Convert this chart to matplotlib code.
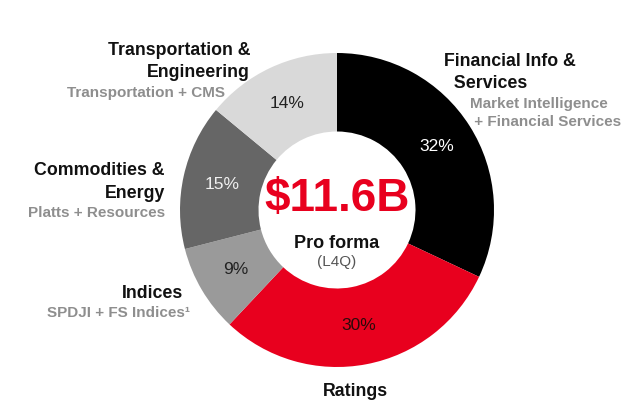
import matplotlib
matplotlib.use("Agg")
import matplotlib.pyplot as plt

# segment data, clockwise from 12 o'clock
segments = ["Financial Info &\n  Services", "Ratings", "Indices",
            "Commodities &\nEnergy", "Transportation &\nEngineering"]
details = ["Market Intelligence\n + Financial Services", "", "SPDJI + FS Indices\u00b9",
           "Platts + Resources", "Transportation + CMS"]
shares = [32, 30, 9, 15, 14]
total_label = "$11.6B"
sub_label = "Pro forma"
period_label = "(L4Q)"

colors = ["#000000", "#e8001e", "#9a9a9a", "#666666", "#d9d9d9"]
pct_colors = ["#ffffff", "#2a0a0a", "#222222", "#f0f0f0", "#222222"]

plt.rcParams["font.family"] = ["Liberation Sans", "DejaVu Sans"]

W, H = 640, 417
fig = plt.figure(figsize=(6.4, 4.17), dpi=100)
ax = fig.add_axes([0, 0, 1, 1])
ax.set_xlim(0, W)
ax.set_ylim(0, H)
ax.set_aspect("equal")
ax.axis("off")

cx, cy, R = 337, H - 210, 157
wedges, texts, autotexts = ax.pie(
    shares, colors=colors, startangle=90, counterclock=False,
    center=(cx, cy), radius=R, autopct="%d%%", pctdistance=0.75,
    wedgeprops=dict(width=R * 0.5, linewidth=0),
    textprops=dict(fontsize=12.5))
for t, c in zip(autotexts, pct_colors):
    t.set_color(c)
ax.set_xlim(0, W)
ax.set_ylim(0, H)

# centre text
ax.text(cx, H - 199, total_label, color="#e8001e", fontsize=33, fontweight="bold",
        ha="center", va="center")
ax.text(cx, H - 243, sub_label, color="#111111", fontsize=13, fontweight="bold",
        ha="center", va="center")
ax.text(cx, H - 262, period_label, color="#555555", fontsize=11,
        ha="center", va="center")

# outside labels (x, y, ha) for title and detail
label_pos = [
    ((444, 72.5, "left"), (470, 113, "left")),
    ((355, 392, "center"), None),
    ((183, 293, "right"), (190, 313, "right")),
    ((165, 182, "right"), (165, 213, "right")),
    ((250, 61.5, "right"), (225, 93, "right")),
]
for name, det, (tpos, dpos) in zip(segments, details, label_pos):
    x, y, ha = tpos
    ax.text(x, H - y, name, fontsize=12.8, fontweight="bold", color="#111111",
            ha=ha, va="center", multialignment=ha, linespacing=1.45)
    if dpos is not None:
        x, y, ha = dpos
        ax.text(x, H - y, det, fontsize=11, fontweight="bold", color="#8e8e8e",
                ha=ha, va="center", multialignment=ha, linespacing=1.4)

fig.savefig("out.png", dpi=100)
